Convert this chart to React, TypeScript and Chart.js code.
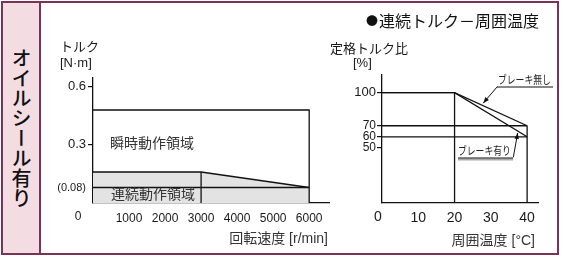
import React, { useEffect, useRef } from "react";
import { Chart, registerables } from "chart.js";

Chart.register(...registerables);

const FONT = '"Liberation Sans", "Noto Sans CJK JP", Arial, sans-serif';
const JP = '"Noto Sans CJK JP", "Liberation Sans", sans-serif';

// ---- Left chart: speed – torque ----
const speedTicks = [1000, 2000, 3000, 4000, 5000, 6000];
const torqueTicks = [0.08, 0.3, 0.6];
const torqueTickLabels = ["(0.08)", "0.3", "0.6"];
const contSpeed = [0, 3000, 6000];
const contTorque = [0.16, 0.16, 0.08];
const peakSpeed = [0, 6000, 6000];
const peakTorque = [0.48, 0.48, 0];
const ratedSpeed = [0, 6000];
const ratedTorque = [0.08, 0.08];
const cornerSpeed = [3000, 3000];
const cornerTorque = [0, 0.16];

// ---- Right chart: ambient temperature – rated torque ratio ----
const tempTicks = [10, 20, 30, 40];
const ratioTicks = [50, 60, 70, 100];
const tempPts = [0, 20, 40];
const ratioNoBrake = [100, 100, 70];
const ratioBrake = [100, 100, 60];
const hLineTemp = [0, 40];
const hLine70 = [70, 70];
const hLine60 = [60, 60];
const v20Temp = [20, 20];
const v20Ratio = [0, 100];
const v40Temp = [40, 40];
const v40Ratio = [0, 70];

const pts = (xs: number[], ys: number[]) => xs.map((x, i) => ({ x, y: ys[i] }));

const line = (xs: number[], ys: number[], extra: any = {}) => ({
  data: pts(xs, ys),
  showLine: true,
  borderColor: "#111",
  borderWidth: 1.3,
  pointRadius: 0,
  fill: false,
  tension: 0,
  ...extra,
});

type TextItem = { t: string; x: number; y: number; align?: CanvasTextAlign; font?: string; color?: string };

const textPlugin = (items: TextItem[], zeroOffset: number) => ({
  id: "texts",
  afterDraw(chart: any) {
    const ctx = chart.ctx as CanvasRenderingContext2D;
    ctx.save();
    ctx.textBaseline = "middle";
    for (const it of items) {
      ctx.font = it.font || `13px ${FONT}`;
      ctx.fillStyle = it.color || "#1a1a1a";
      ctx.textAlign = it.align || "left";
      ctx.fillText(it.t, it.x, it.y);
    }
    // origin label "0"
    const xs = chart.scales.x;
    const ys = chart.scales.y;
    ctx.font = chart.options.scales.x.ticks.font.size + `px ${FONT}`;
    ctx.textAlign = "center";
    ctx.fillStyle = "#1a1a1a";
    ctx.fillText("0", xs.getPixelForValue(0) + zeroOffset, ys.getPixelForValue(0) + 14);
    ctx.restore();
  },
});

type Note = { t: string; tx: number; ty: number; tw: number; from: [number, number]; tip: [number, number]; shadow?: boolean };

const notePlugin = (notes: Note[]) => ({
  id: "notes",
  afterDraw(chart: any) {
    const ctx = chart.ctx as CanvasRenderingContext2D;
    const xs = chart.scales.x;
    const ys = chart.scales.y;
    ctx.save();
    for (const n of notes) {
      ctx.save();
      ctx.font = `11px ${JP}`;
      ctx.fillStyle = "#222";
      ctx.textAlign = "left";
      ctx.textBaseline = "middle";
      ctx.translate(n.tx, n.ty);
      ctx.scale(0.8, 1);
      ctx.fillText(n.t, 0, 0);
      ctx.restore();
      const uy = n.ty + 7;
      if (n.shadow) {
        ctx.strokeStyle = "#aaa";
        ctx.lineWidth = 2;
        ctx.beginPath();
        ctx.moveTo(n.tx, uy + 1.5);
        ctx.lineTo(n.tx + n.tw, uy + 1.5);
        ctx.stroke();
      }
      ctx.strokeStyle = "#111";
      ctx.lineWidth = 1;
      ctx.beginPath();
      ctx.moveTo(n.tx - (n.shadow ? 0 : 1), uy);
      ctx.lineTo(n.tx + n.tw, uy);
      ctx.stroke();
      const fx = xs.getPixelForValue(n.from[0]);
      const fy = ys.getPixelForValue(n.from[1]);
      const px = xs.getPixelForValue(n.tip[0]);
      const py = ys.getPixelForValue(n.tip[1]);
      ctx.beginPath();
      ctx.moveTo(fx, fy);
      ctx.lineTo(px, py);
      ctx.stroke();
      const ang = Math.atan2(py - fy, px - fx);
      const L = 6, W = 2.3;
      ctx.fillStyle = "#111";
      ctx.beginPath();
      ctx.moveTo(px, py);
      ctx.lineTo(px - L * Math.cos(ang) + W * Math.sin(ang), py - L * Math.sin(ang) - W * Math.cos(ang));
      ctx.lineTo(px - L * Math.cos(ang) - W * Math.sin(ang), py - L * Math.sin(ang) + W * Math.cos(ang));
      ctx.closePath();
      ctx.fill();
    }
    ctx.restore();
  },
});

const titlePlugin = {
  id: "title2",
  afterDraw(chart: any) {
    const ctx = chart.ctx as CanvasRenderingContext2D;
    ctx.save();
    ctx.textBaseline = "middle";
    ctx.textAlign = "center";
    ctx.fillStyle = "#111";
    ctx.font = `12px ${JP}`;
    ctx.fillText("●", 372, 21);
    ctx.textAlign = "left";
    ctx.font = `16px ${JP}`;
    ctx.fillText("連続トルク－周囲温度", 379, 21);
    ctx.restore();
  },
};

function makeLeft(canvas: HTMLCanvasElement) {
  return new Chart(canvas, {
    type: "scatter",
    data: {
      datasets: [
        line(peakSpeed, peakTorque),
        line(ratedSpeed, ratedTorque),
        line(cornerSpeed, cornerTorque),
        line(contSpeed, contTorque, { fill: "origin", backgroundColor: "#e3e3e3" }),
      ],
    },
    options: {
      responsive: false,
      animation: false,
      events: [],
      layout: { padding: { left: 53, right: 234, top: 78, bottom: 25 } },
      plugins: { legend: { display: false }, tooltip: { enabled: false } },
      scales: {
        x: {
          type: "linear",
          min: 0,
          max: 6550,
          border: { display: true, color: "#111", width: 1.3 },
          grid: { display: true, drawOnChartArea: false, drawTicks: false, color: "transparent" },
          ticks: {
            font: { size: 12, family: FONT },
            color: "#1a1a1a",
            padding: 8,
            maxRotation: 0,
            autoSkip: false,
            callback: (v: any) => String(v),
          },
          afterBuildTicks: (s: any) => { s.ticks = speedTicks.map((v) => ({ value: v })); },
          afterFit: (s: any) => { s.height = 30; },
        },
        y: {
          type: "linear",
          min: 0,
          max: 0.645,
          border: { display: true, color: "#111", width: 1.3 },
          grid: {
            display: true,
            drawOnChartArea: false,
            drawTicks: true,
            tickLength: 5,
            color: (c: any) => (c.tick && c.tick.value === 0.08 ? "transparent" : "#111"),
            lineWidth: 1.2,
          },
          ticks: {
            font: (c: any) => ({ size: c.tick && c.tick.value === 0.08 ? 11 : 13, family: FONT }),
            color: "#1a1a1a",
            padding: 2,
            autoSkip: false,
            callback: (v: any) => {
              const i = torqueTicks.indexOf(Number(v));
              return i >= 0 ? torqueTickLabels[i] : "";
            },
          },
          afterBuildTicks: (s: any) => { s.ticks = torqueTicks.map((v) => ({ value: v })); },
          afterFit: (s: any) => { s.width = 40; },
        },
      },
    } as any,
    plugins: [
      textPlugin(
        [
          { t: "トルク", x: 60, y: 47 },
          { t: "[N·m]", x: 60, y: 63 },
          { t: "瞬時動作領域", x: 110, y: 143, font: `14px ${JP}`, color: "#333" },
          { t: "連続動作領域", x: 111, y: 194, font: `14px ${JP}`, color: "#333" },
          { t: "回転速度 [r/min]", x: 328, y: 239, align: "right", font: `14px ${FONT}`, color: "#333" },
        ],
        -15
      ),
    ],
  });
}

function makeRight(canvas: HTMLCanvasElement) {
  return new Chart(canvas, {
    type: "scatter",
    data: {
      datasets: [
        line(tempPts, ratioNoBrake),
        line(tempPts, ratioBrake),
        line(hLineTemp, hLine70),
        line(hLineTemp, hLine60),
        line(v20Temp, v20Ratio),
        line(v40Temp, v40Ratio),
      ],
    },
    options: {
      responsive: false,
      animation: false,
      events: [],
      layout: { padding: { left: 342, right: 25, top: 75, bottom: 25 } },
      plugins: { legend: { display: false }, tooltip: { enabled: false } },
      scales: {
        x: {
          type: "linear",
          min: 0,
          max: 43,
          border: { display: true, color: "#111", width: 1.3 },
          grid: { display: true, drawOnChartArea: false, drawTicks: false, color: "transparent" },
          ticks: {
            font: { size: 14, family: FONT },
            color: "#1a1a1a",
            padding: 7,
            maxRotation: 0,
            autoSkip: false,
            callback: (v: any) => String(v),
          },
          afterBuildTicks: (s: any) => { s.ticks = tempTicks.map((v) => ({ value: v })); },
          afterFit: (s: any) => { s.height = 30; },
        },
        y: {
          type: "linear",
          min: 0,
          max: 116,
          border: { display: true, color: "#111", width: 1.3 },
          grid: {
            display: true,
            drawOnChartArea: false,
            drawTicks: true,
            tickLength: 5,
            color: "#111",
            lineWidth: 1.2,
          },
          ticks: {
            font: (c: any) => ({ size: c.tick && c.tick.value === 100 ? 13 : 12, family: FONT }),
            color: "#1a1a1a",
            padding: 1,
            autoSkip: false,
            callback: (v: any) => String(v),
          },
          afterBuildTicks: (s: any) => { s.ticks = ratioTicks.map((v) => ({ value: v })); },
          afterFit: (s: any) => { s.width = 40; },
        },
      },
    } as any,
    plugins: [
      textPlugin(
        [
          { t: "定格トルク比", x: 330, y: 49 },
          { t: "[%]", x: 353, y: 63 },
          { t: "周囲温度 [°C]", x: 535, y: 241, align: "right", font: `14px ${FONT}`, color: "#333" },
        ],
        -4
      ),
      titlePlugin,
      notePlugin([
        { t: "ブレーキ無し", tx: 498, ty: 80, tw: 55, from: [31.8, 105.5], tip: [27.9, 90.5] },
        { t: "ブレーキ有り", tx: 458, ty: 151, tw: 55, from: [36.2, 41.5], tip: [37.4, 63.5], shadow: true },
      ]),
    ],
  });
}

export default function App() {
  const leftRef = useRef<HTMLCanvasElement>(null);
  const rightRef = useRef<HTMLCanvasElement>(null);
  useEffect(() => {
    const a = makeLeft(leftRef.current!);
    const b = makeRight(rightRef.current!);
    return () => {
      a.destroy();
      b.destroy();
    };
  }, []);
  const maroon = "#7b3257";
  return (
    <div style={{ position: "fixed", left: 0, top: 0, width: 563, height: 258, background: "#fff", overflow: "hidden" }}>
      <div style={{ position: "absolute", left: 1, top: 1, width: 558, height: 254, border: `2px solid ${maroon}`, boxSizing: "border-box" }} />
      <div style={{ position: "absolute", left: 3, top: 3, width: 36, height: 250, background: "#f3dde3" }} />
      <div style={{ position: "absolute", left: 39, top: 1, width: 2, height: 254, background: maroon }} />
      <div
        style={{
          position: "absolute",
          left: 3,
          top: 3,
          width: 36,
          height: 250,
          display: "flex",
          alignItems: "center",
          justifyContent: "center",
        }}
      >
        <div
          style={{
            writingMode: "vertical-rl",
            textOrientation: "upright",
            fontFamily: JP,
            fontSize: 20,
            fontWeight: 500,
            color: "#111",
            lineHeight: 1,
          }}
        >
          オイルシール有り
        </div>
      </div>
      <canvas ref={leftRef} width={563} height={258} style={{ position: "absolute", left: 0, top: 0 }} />
      <canvas ref={rightRef} width={563} height={258} style={{ position: "absolute", left: 0, top: 0 }} />
    </div>
  );
}
